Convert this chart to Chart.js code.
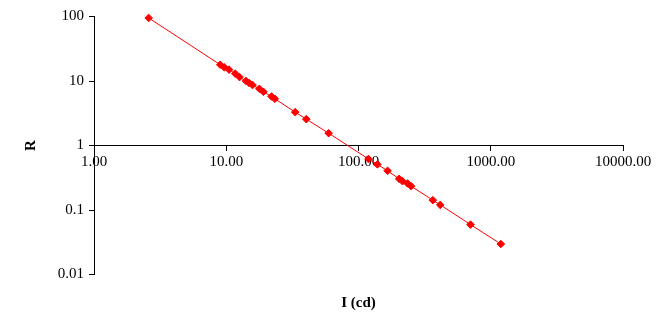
<!DOCTYPE html>
<html><head><meta charset="utf-8">
<script src="https://cdn.jsdelivr.net/npm/chart.js@4/dist/chart.umd.min.js"></script>
<style>html,body{margin:0;padding:0;background:#fff}#wrap{width:667px;height:332px;position:relative}</style>
</head><body><div id="wrap"><canvas id="c"></canvas></div>
<script>
const intensity = [2.59, 9.0, 9.66, 10.5, 11.7, 12.6, 14.1, 14.9, 15.8, 17.8, 19.1, 22.0, 23.3, 33.2, 40.3, 59.5, 119, 139, 166, 203, 215, 235, 250, 365, 415, 703, 1192];
const resistance = [95, 17.9, 16.3, 15.0, 13.0, 11.5, 10.0, 9.29, 8.65, 7.57, 6.80, 5.75, 5.30, 3.29, 2.56, 1.55, 0.617, 0.510, 0.405, 0.304, 0.280, 0.258, 0.234, 0.142, 0.120, 0.0594, 0.0297];
const xTickValues = [1, 10, 100, 1000, 10000];
const xTickLabels = ['1.00', '10.00', '100.00', '1000.00', '10000.00'];
const yTickValues = [0.01, 0.1, 1, 10, 100];
const yTickLabels = ['0.01', '0.1', '1', '10', '100'];
const xTitle = 'I (cd)';
const yTitle = 'R';

const FONT = '"Liberation Serif", "Times New Roman", serif';
const points = intensity.map((v, i) => ({x: v, y: resistance[i]}));

new Chart(document.getElementById('c'), {
  type: 'scatter',
  data: {datasets: [{
    data: points,
    showLine: true,
    clip: false,
    borderColor: '#FF0000',
    borderWidth: 1,
    backgroundColor: '#FF0000',
    pointStyle: 'rectRot',
    pointRadius: 3.8,
    pointBorderWidth: 1,
    pointBorderColor: '#FF0000',
    tension: 0
  }]},
  options: {
    responsive: true,
    maintainAspectRatio: false,
    animation: false,
    layout: {padding: {left: 0, right: 44, top: 16.5, bottom: 0}},
    plugins: {
      legend: {display: false},
      tooltip: {enabled: false},
      title: {display: true, text: xTitle, position: 'bottom', color: '#000', fullSize: false,
        font: {family: FONT, size: 15, weight: 'bold'}, padding: {top: 19.5, bottom: 20}}
    },
    scales: {
      x: {
        type: 'logarithmic', min: 1, max: 10000,
        position: {y: 1},
        afterBuildTicks: s => { s.ticks = xTickValues.map(v => ({value: v})); },
        ticks: {autoSkip: false, maxRotation: 0, color: '#000', padding: 3,
          font: {family: FONT, size: 15},
          callback: (v, i) => xTickLabels[i]},
        grid: {display: true, drawOnChartArea: false, drawTicks: true, tickLength: 5, color: '#000'},
        border: {display: true, color: '#000', width: 1}
      },
      y: {
        type: 'logarithmic', min: 0.01, max: 100,
        position: 'left',
        afterBuildTicks: s => { s.ticks = yTickValues.map(v => ({value: v})); },
        afterFit: s => { s.width = 94; },
        ticks: {autoSkip: false, color: '#000', padding: 5,
          font: {family: FONT, size: 15},
          callback: (v, i) => yTickLabels[i]},
        grid: {display: true, drawOnChartArea: false, drawTicks: true, tickLength: 5, color: '#000'},
        border: {display: true, color: '#000', width: 1},
        title: {display: true, text: yTitle, color: '#000',
          font: {family: FONT, size: 15, weight: 'bold'}, padding: {top: 22, bottom: 0}}
      }
    }
  }
});
</script>
</body></html>
